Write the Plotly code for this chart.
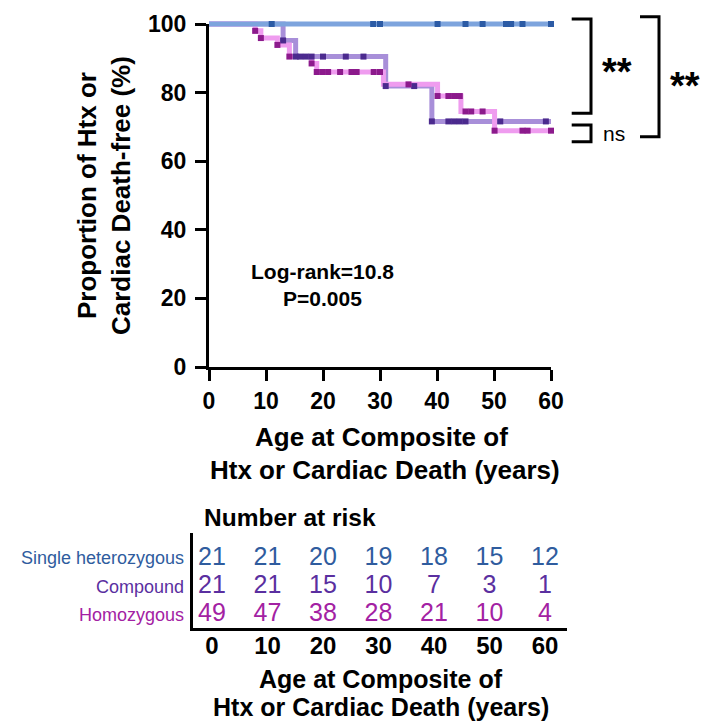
import plotly.graph_objects as go

# ---------------- data ----------------
groups = ["Single heterozygous", "Compound", "Homozygous"]

# Kaplan-Meier step curves: times (years) where the curve steps, and level after each step (%)
single_step_t = [0, 60]
single_step_s = [100, 100]
single_cens_t = [11.0, 28.8, 30.0, 40.1, 45.0, 48.0, 52.1, 53.0, 55.0, 60.0]

compound_step_t = [0, 13.0, 15.2, 31.0, 39.1, 60]
compound_step_s = [100, 95.2, 90.5, 81.9, 71.6, 71.6]
compound_cens_t = [13.0, 15.2, 16.0, 17.0, 18.0, 20.0, 24.0, 27.1, 31.0, 36.0,
                   39.1, 42.0, 43.0, 44.0, 45.0, 51.1, 59.1]

homo_step_t = [0, 8.1, 9.1, 12.0, 14.1, 18.0, 18.9, 30.6, 40.1, 44.2, 50.1, 60]
homo_step_s = [100, 98.0, 95.9, 93.9, 90.5, 88.5, 86.0, 82.4, 79.0, 74.5, 68.9, 68.9]
homo_cens_t = [8.1, 9.1, 12.0, 14.1, 18.0, 18.9, 19.9, 20.9, 23.0, 25.0, 25.9, 28.9,
               30.0, 35.0, 40.1, 42.0, 43.0, 44.0, 45.0, 46.0, 48.0, 50.1, 55.0, 55.9, 60.0]

risk_times = [0, 10, 20, 30, 40, 50, 60]
risk_single = [21, 21, 20, 19, 18, 15, 12]
risk_compound = [21, 21, 15, 10, 7, 3, 1]
risk_homo = [49, 47, 38, 28, 21, 10, 4]

x_ticks = [0, 10, 20, 30, 40, 50, 60]
y_ticks = [0, 20, 40, 60, 80, 100]

stats_text = ["Log-rank=10.8", "P=0.005"]
x_title_lines = ["Age at Composite of", "Htx or Cardiac Death (years)"]
y_title = "Proportion of Htx or<br>Cardiac Death-free (%)"

# ---------------- styling ----------------
W, H = 724, 721
FONT = "Liberation Sans"
line_cols = {"s": "#7DA4DD", "c": "#A88FD9", "h": "#EF9CEF"}
mark_cols = {"s": "#2C5BA5", "c": "#4B2A8E", "h": "#8C1A8C"}
text_cols = {"s": "#2F5C9E", "c": "#5A2FA0", "h": "#A321A3"}


def px_x(p):
    return p / W


def px_y(p):
    return 1 - p / H


def level_at(t, step_t, step_s):
    v = step_s[0]
    for tt, ss in zip(step_t, step_s):
        if tt <= t + 1e-9:
            v = ss
    return v


# main plot frame in pixels
X0, X1 = 209, 551      # x = 0 .. 60
Y0, Y1 = 367, 24       # y = 0 .. 100
sx = (X1 - X0) / 60.0
sy = (Y0 - Y1) / 100.0
PADX, PADY = 2.0, 4.0

fig = go.Figure()

# anchor trace for the visible axes
fig.add_trace(go.Scatter(x=[0], y=[0], mode="markers", marker=dict(opacity=0),
                         hoverinfo="skip", showlegend=False, xaxis="x", yaxis="y"))

# step lines
for key, st, ss in [("c", compound_step_t, compound_step_s),
                    ("h", homo_step_t, homo_step_s),
                    ("s", single_step_t, single_step_s)]:
    fig.add_trace(go.Scatter(x=st, y=ss, mode="lines", line=dict(color=line_cols[key], width=5, shape="hv"),
                             hoverinfo="skip", showlegend=False, xaxis="x2", yaxis="y2"))

# censor / event marks
for key, ct, st, ss in [("c", compound_cens_t, compound_step_t, compound_step_s),
                        ("h", homo_cens_t, homo_step_t, homo_step_s),
                        ("s", single_cens_t, single_step_t, single_step_s)]:
    fig.add_trace(go.Scatter(x=ct, y=[level_at(t, st, ss) for t in ct], mode="markers",
                             marker=dict(symbol="square", size=6, color=mark_cols[key], line=dict(width=0)),
                             hoverinfo="skip", showlegend=False, xaxis="x2", yaxis="y2", cliponaxis=False))

# number-at-risk table
row_y = {"s": 3, "c": 2, "h": 1}
for key, vals in [("s", risk_single), ("c", risk_compound), ("h", risk_homo)]:
    fig.add_trace(go.Scatter(x=risk_times, y=[row_y[key]] * len(risk_times), mode="text",
                             text=[str(v) for v in vals],
                             textfont=dict(family=FONT, size=25, color=text_cols[key]),
                             hoverinfo="skip", showlegend=False, xaxis="x3", yaxis="y3", cliponaxis=False))

axis_common = dict(showgrid=False, zeroline=False, showline=True, linecolor="black", linewidth=3,
                   ticks="outside", ticklen=11, tickwidth=3, tickcolor="black", automargin=False,
                   tickfont=dict(family=FONT, size=23, color="black", weight="bold"))

# table axes geometry
TX0, TX1 = 192.7, 566.7
T0, T60 = 212, 545
tsx = (T60 - T0) / 60.0
TY0, TY1 = 628, 533
ROW1_PX, ROW3_PX = 615, 558.3
tsy = (ROW1_PX - ROW3_PX) / 2.0

fig.update_layout(
    template="none",
    width=W, height=H, margin=dict(l=0, r=0, t=0, b=0, pad=0),
    paper_bgcolor="white", plot_bgcolor="rgba(0,0,0,0)", showlegend=False,
    font=dict(family=FONT, color="black"),
    xaxis=dict(domain=[px_x(X0), px_x(X1)], range=[0, 60], anchor="y",
               tickvals=x_ticks, **axis_common),
    yaxis=dict(domain=[px_y(Y0), px_y(Y1)], range=[0, 100], anchor="x",
               tickvals=y_ticks, ticklabelstandoff=4, **axis_common),
    xaxis2=dict(domain=[px_x(X0 - PADX * sx), px_x(X1 + PADX * sx)], range=[-PADX, 60 + PADX],
                anchor="y2", visible=False, automargin=False),
    yaxis2=dict(domain=[px_y(Y0 + PADY * sy), px_y(Y1 - PADY * sy)], range=[-PADY, 100 + PADY],
                anchor="x2", visible=False, automargin=False),
    xaxis3=dict(domain=[px_x(TX0), px_x(TX1)],
                range=[(TX0 - T0) / tsx, (TX1 - T0) / tsx], anchor="y3", automargin=False,
                showgrid=False, zeroline=False, showline=True, linecolor="black", linewidth=2.5,
                ticks="", tickvals=x_ticks, ticklabelstandoff=-6,
                tickfont=dict(family=FONT, size=24, color="black", weight="bold")),
    yaxis3=dict(domain=[px_y(TY0), px_y(TY1)], automargin=False,
                range=[1 - (TY0 - ROW1_PX) / tsy, 3 + (ROW3_PX - TY1) / tsy], anchor="x3",
                showgrid=False, zeroline=False, showline=True, linecolor="black", linewidth=2.5,
                showticklabels=False, ticks=""),
)

ann = []


def label(text, xp, yp, size, bold=True, xanchor="center", yanchor="middle", **kw):
    f = dict(family=FONT, size=size, color=kw.pop("color", "black"))
    if bold:
        f["weight"] = "bold"
    d = dict(text=text, x=px_x(xp), y=px_y(yp), xref="paper", yref="paper", showarrow=False,
             xanchor=xanchor, yanchor=yanchor, font=f)
    d.update(kw)
    return d


# axis titles
ann.append(label(y_title, 104, 196, 26, textangle=-90))
ann.append(label(x_title_lines[0], 381, 437, 26))
ann.append(label(x_title_lines[1], 385, 470, 26))
ann.append(label(x_title_lines[0], 381, 679, 25))
ann.append(label(x_title_lines[1], 381, 707, 25))
# statistics
ann.append(label(stats_text[0] + "<br>" + stats_text[1], 322, 285, 21))
# significance marks
ann.append(label("**", 617, 72, 38))
ann.append(label("**", 685, 86, 38))
ann.append(label("ns", 601, 133, 21, bold=False, xanchor="left"))
# table header and row labels
ann.append(label("Number at risk", 202, 517, 24.5, xanchor="left"))
for key, name in zip(["s", "c", "h"], groups):
    ann.append(dict(text=name, x=px_x(186), y=row_y[key], xref="paper", yref="y3",
                    xanchor="right", yanchor="middle", showarrow=False,
                    font=dict(family=FONT, size=18, color=text_cols[key])))
fig.update_layout(annotations=ann)


# comparison brackets
def bracket(xl, xr, yt, yb):
    return dict(type="path", xref="paper", yref="paper",
                path=f"M {px_x(xl)},{px_y(yt)} L {px_x(xr)},{px_y(yt)} L {px_x(xr)},{px_y(yb)} L {px_x(xl)},{px_y(yb)}",
                line=dict(color="black", width=3))


fig.update_layout(shapes=[
    bracket(571.7, 591, 19, 113.3),
    bracket(571.7, 591, 125, 141.7),
    bracket(640, 659, 16.7, 136.7),
])

fig.write_html("out.html")
